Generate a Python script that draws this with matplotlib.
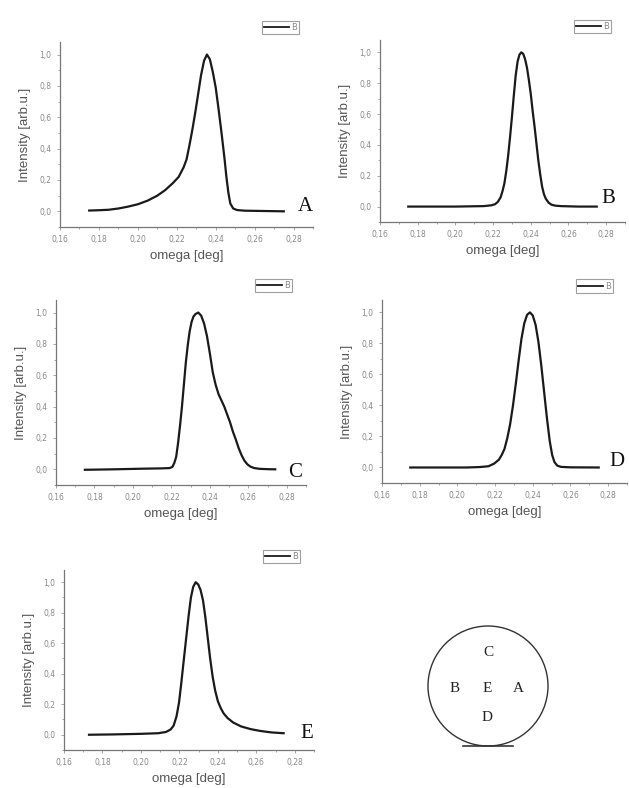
import matplotlib
matplotlib.use("Agg")
import matplotlib.pyplot as plt
from matplotlib.patches import Circle
from matplotlib.ticker import MultipleLocator, FuncFormatter

# omega [deg] / normalised intensity
a_x = [0.175, 0.180, 0.185, 0.190, 0.195, 0.200, 0.205, 0.210, 0.214, 0.218, 0.221, 0.2235,
       0.225, 0.2265, 0.228, 0.2295, 0.231, 0.2325, 0.234, 0.2355, 0.237, 0.2385, 0.240,
       0.2415, 0.243, 0.2445, 0.2455, 0.2465, 0.2475, 0.249, 0.251, 0.255, 0.265, 0.275]
a_y = [0.005, 0.007, 0.01, 0.018, 0.03, 0.045, 0.068, 0.10, 0.135, 0.18, 0.22, 0.28,
       0.33, 0.42, 0.52, 0.63, 0.75, 0.87, 0.96, 1.0, 0.97, 0.89, 0.79,
       0.65, 0.50, 0.34, 0.22, 0.12, 0.05, 0.018, 0.008, 0.004, 0.002, 0.0]

b_x = [0.175, 0.200, 0.215, 0.219, 0.221, 0.2225, 0.224, 0.225, 0.226, 0.227, 0.228, 0.229,
       0.230, 0.231, 0.232, 0.233, 0.234, 0.235, 0.236, 0.237, 0.238, 0.239, 0.240, 0.241,
       0.242, 0.243, 0.244, 0.245, 0.246, 0.247, 0.248, 0.2495, 0.251, 0.253, 0.256, 0.265, 0.275]
b_y = [0.0, 0.0, 0.003, 0.008, 0.015, 0.03, 0.06, 0.10, 0.15, 0.23, 0.33, 0.45,
       0.58, 0.72, 0.85, 0.94, 0.985, 1.0, 0.99, 0.955, 0.90, 0.82, 0.73, 0.62,
       0.52, 0.41, 0.30, 0.21, 0.13, 0.08, 0.05, 0.025, 0.012, 0.006, 0.003, 0.0, 0.0]

c_x = [0.175, 0.190, 0.205, 0.215, 0.219, 0.2205, 0.2215, 0.2225, 0.2235, 0.2245, 0.2255,
       0.2265, 0.2275, 0.2285, 0.2295, 0.2305, 0.2315, 0.2325, 0.234, 0.2355, 0.237, 0.2385,
       0.240, 0.2415, 0.243, 0.2445, 0.246, 0.2475, 0.249, 0.2505, 0.252, 0.2535, 0.255,
       0.2565, 0.258, 0.2595, 0.261, 0.263, 0.266, 0.270, 0.274]
c_y = [-0.003, 0.0, 0.004, 0.006, 0.008, 0.015, 0.04, 0.08, 0.17, 0.28, 0.40,
       0.54, 0.68, 0.79, 0.88, 0.94, 0.975, 0.99, 1.0, 0.98, 0.93, 0.85,
       0.74, 0.62, 0.54, 0.48, 0.44, 0.40, 0.35, 0.30, 0.24, 0.19, 0.135,
       0.09, 0.055, 0.032, 0.018, 0.008, 0.003, 0.001, 0.0]

d_x = [0.175, 0.205, 0.212, 0.2165, 0.2195, 0.222, 0.2235, 0.225, 0.2265, 0.228, 0.2295,
       0.231, 0.2325, 0.234, 0.2355, 0.237, 0.2385, 0.240, 0.2415, 0.243, 0.2445, 0.246,
       0.2475, 0.249, 0.2503, 0.2515, 0.253, 0.255, 0.260, 0.275]
d_y = [0.0, 0.0, 0.003, 0.008, 0.025, 0.05, 0.08, 0.12, 0.19, 0.28, 0.40,
       0.54, 0.69, 0.83, 0.93, 0.985, 1.0, 0.98, 0.92, 0.81, 0.66, 0.49,
       0.32, 0.17, 0.08, 0.035, 0.012, 0.004, 0.001, 0.0]

e_x = [0.173, 0.185, 0.200, 0.209, 0.213, 0.2155, 0.217, 0.2185, 0.2198, 0.221, 0.2222,
       0.2235, 0.2248, 0.226, 0.2272, 0.2285, 0.2298, 0.231, 0.2323, 0.2335, 0.2348, 0.236,
       0.2373, 0.2386, 0.240, 0.2415, 0.243, 0.245, 0.248, 0.252, 0.257, 0.262, 0.268, 0.2742]
e_y = [0.0, 0.002, 0.006, 0.01, 0.018, 0.035, 0.06, 0.12, 0.21, 0.34, 0.48,
       0.63, 0.78, 0.90, 0.97, 1.0, 0.985, 0.95, 0.88, 0.77, 0.63, 0.50,
       0.38, 0.29, 0.22, 0.175, 0.14, 0.11, 0.08, 0.055, 0.037, 0.025, 0.015, 0.01]

panel_names = ["A", "B", "C", "D", "E"]
legend_label = "B"
x_label = "omega [deg]"
y_label = "Intensity [arb.u.]"
wafer_letters = {"C": (0, -33), "B": (-33, 3), "E": (-1, 3), "A": (30, 3), "D": (-1, 32)}

W, H = 629, 788
# axes boxes in pixels: left, top, width, height
boxes = [(60, 42, 253, 185), (380, 40, 245, 182), (56, 300, 250, 185),
         (382, 300, 245, 183), (64, 570, 250, 180)]
letter_pos = [(0.97, 0.11), (0.93, 0.13), (0.955, 0.07), (0.96, 0.115), (0.97, 0.094)]

fig = plt.figure(figsize=(W / 100, H / 100), dpi=100)
fig.patch.set_facecolor("white")

comma = FuncFormatter(lambda v, p: f"{v:.2f}".replace(".", ","))
comma1 = FuncFormatter(lambda v, p: f"{v:.1f}".replace(".", ","))

series = [(a_x, a_y), (b_x, b_y), (c_x, c_y), (d_x, d_y), (e_x, e_y)]
for (xs, ys), name, (l, t, w, h), (lx, ly) in zip(series, panel_names, boxes, letter_pos):
    ax = fig.add_axes([l / W, 1 - (t + h) / H, w / W, h / H])
    ax.plot(xs, ys, color="#1a1a1a", lw=1.6, label=legend_label, solid_joinstyle="round")
    ax.set_xlim(0.16, 0.29)
    ax.set_ylim(-0.1, 1.08)
    ax.xaxis.set_major_locator(MultipleLocator(0.02))
    ax.xaxis.set_minor_locator(MultipleLocator(0.01))
    ax.yaxis.set_major_locator(MultipleLocator(0.2))
    ax.yaxis.set_minor_locator(MultipleLocator(0.1))
    ax.xaxis.set_major_formatter(comma)
    ax.yaxis.set_major_formatter(comma1)
    for side in ("top", "right"):
        ax.spines[side].set_visible(False)
    for side in ("left", "bottom"):
        ax.spines[side].set_color("#777777")
        ax.spines[side].set_linewidth(0.9)
    ax.tick_params(which="both", direction="out", colors="#999999", labelsize=5.5,
                   labelcolor="#8a8a8a", width=0.6)
    ax.tick_params(which="major", length=2.5)
    ax.tick_params(which="minor", length=1.5)
    ax.set_xlabel(x_label, fontsize=9.5, color="#555555", family="Liberation Sans", labelpad=4)
    ax.set_ylabel(y_label, fontsize=9.5, color="#555555", family="Liberation Sans", labelpad=6)
    leg = ax.legend(loc="upper right", bbox_to_anchor=(0.96, 1.135), fontsize=6,
                    handlelength=3.0, handletextpad=0.2, borderpad=0.25, fancybox=False,
                    edgecolor="#888888", labelcolor="#888888")
    leg.get_frame().set_linewidth(0.8)
    for ln in leg.get_lines():
        ln.set_linewidth(1.3)
    ax.text(lx, ly, name, transform=ax.transAxes, ha="center", va="center",
            fontsize=15, family="Liberation Serif", color="#111111")

# wafer map with measurement positions
cx, cy, r = 488, 686, 60
wax = fig.add_axes([400 / W, 1 - 760 / H, 180 / W, 150 / H])
wax.set_xlim(400, 580)
wax.set_ylim(760, 610)
wax.set_aspect("equal")
wax.axis("off")
wax.add_patch(Circle((cx, cy), r, fill=False, lw=1.0, ec="#333333"))
wax.plot([cx - 25, cx + 25], [cy + r, cy + r], color="#333333", lw=1.2)
for name, (dx, dy) in wafer_letters.items():
    wax.text(cx + dx, cy + dy, name, ha="center", va="center", fontsize=11,
             family="Liberation Serif", color="#222222")

fig.savefig("out.png", dpi=100, facecolor="white")
